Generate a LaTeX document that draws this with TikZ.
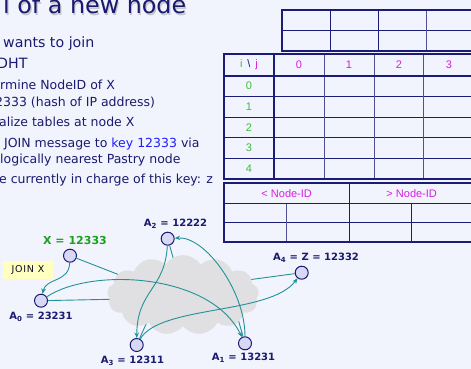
\documentclass[tikz,border=0pt]{standalone}
\usepackage{fontspec}
\setmainfont{DejaVu Sans}
\newfontfamily\tabfont{Liberation Sans}
\usetikzlibrary{shapes.symbols,arrows.meta}
\definecolor{bgc}{RGB}{242,244,253}
\definecolor{navy}{RGB}{26,26,112}
\definecolor{gridnavy}{RGB}{28,28,120}
\definecolor{gridsoft}{RGB}{80,80,150}
\definecolor{keyblue}{RGB}{30,30,255}
\definecolor{magen}{RGB}{215,30,225}
\definecolor{rowgreen}{RGB}{60,190,60}
\definecolor{xgreen}{RGB}{30,160,30}
\definecolor{linkteal}{RGB}{34,145,152}
\definecolor{nodefill}{RGB}{216,216,244}
\definecolor{cloudgray}{RGB}{224,224,226}
\definecolor{joinyellow}{RGB}{255,255,192}
\tikzset{
  bullet/.style={anchor=base west,inner sep=0,text=navy,font=\fontsize{12.5}{15}\selectfont},
  bulletbig/.style={anchor=base west,inner sep=0,text=navy,font=\fontsize{14.2}{17}\selectfont},
  tthick/.style={draw=gridnavy,line width=1.8pt},
  tthin/.style={draw=gridnavy,line width=1pt},
  tsoft/.style={draw=gridsoft,line width=1pt},
  hdr/.style={inner sep=0,text=magen,font=\tabfont\fontsize{11}{13}\selectfont},
  rowlbl/.style={inner sep=0,text=rowgreen,font=\tabfont\fontsize{11}{13}\selectfont},
  peer/.style={circle,minimum size=13pt,inner sep=0,fill=nodefill,draw=navy,line width=1pt},
  peerlbl/.style={inner sep=0,text=navy,font=\bfseries\fontsize{10}{12}\selectfont},
  link/.style={draw=linkteal,line width=0.9pt},
  hop/.style={draw=linkteal,line width=0.9pt,-{Stealth[length=5.5pt,width=4.5pt]}},
}
\begin{document}
\begin{tikzpicture}[x=1pt,y=-1pt]
\fill[bgc] (0,0) rectangle (471,369);
\useasboundingbox (0,0) rectangle (471,369);
\clip (0,0) rectangle (471,369);

% title with its soft shadow
\node[anchor=base west,inner sep=0,text=black!35,opacity=0.6,font=\fontsize{23.8}{28}\selectfont] (titleshadow) at (4.2,15.2) {l of a new node};
\node[anchor=base west,inner sep=0,text=navy,font=\fontsize{23.8}{28}\selectfont] (title) at (3,14) {l of a new node};

% bullet text
\node[bulletbig] (b1) at (3,48) {wants to join};
\node[bulletbig] (b2) at (-3,68) {DHT};
\node[bullet] (b3) at (0,89) {rmine NodeID of X};
\node[bullet] (b4) at (-5,106) {2333 (hash of IP address)};
\node[bullet] (b5) at (-1,126) {alize tables at node X};
\node[bullet] (b6) at (4,147) {JOIN message to \textcolor{keyblue}{key 12333} via};
\node[bullet] (b7) at (0,163) {logically nearest Pastry node};
\node[bullet] (b8) at (-1,183) {e currently in charge of this key: z};

% upper table
\draw[tthin] (282,30.3) -- (480,30.3);
\draw[tthin] (330.3,10) -- (330.3,51) (378.3,10) -- (378.3,51);
\draw[tsoft] (426,10) -- (426,51);
\draw[tthick] (282,10) rectangle (480,51);

% routing table
\draw[tthin] (224,96.3) -- (480,96.3) (224,117) -- (480,117)
             (224,137.7) -- (480,137.7) (224,158.3) -- (480,158.3);
\draw[tsoft] (324.3,54.3) -- (324.3,179) (374,54.3) -- (374,179) (423.7,54.3) -- (423.7,179);
\draw[tthick] (224,75.7) -- (480,75.7) (274,54.3) -- (274,179);
\draw[tthick] (224,54.3) rectangle (480,179);
\node[inner sep=0,font=\tabfont\fontsize{11}{13}\selectfont] (ij) at (249,65)
  {\textcolor{rowgreen}{i}\, \textcolor{navy}{\textbackslash}\, \textcolor{magen}{j}};
\node[hdr] (c0) at (299,65) {0};
\node[hdr] (c1) at (349,65) {1};
\node[hdr] (c2) at (399,65) {2};
\node[hdr] (c3) at (449,65) {3};
\node[rowlbl] (r0) at (249,86) {0};
\node[rowlbl] (r1) at (249,106.6) {1};
\node[rowlbl] (r2) at (249,127.3) {2};
\node[rowlbl] (r3) at (249,148) {3};
\node[rowlbl] (r4) at (249,168.6) {4};

% leaf set
\draw[tthin] (224,203.7) -- (480,203.7) (224,222.7) -- (480,222.7);
\draw[tthin] (349.3,183.3) -- (349.3,241.7) (411.7,203.7) -- (411.7,241.7);
\draw[tsoft] (286.7,203.7) -- (286.7,241.7);
\draw[tthick] (224,183.3) rectangle (480,241.7);
\node[hdr] (lsl) at (286.7,193.5) {< Node-ID};
\node[hdr] (lsg) at (411.7,193.5) {> Node-ID};

% peers
\node[peer] (X)  at (70,255.7) {};
\node[peer] (A0) at (41,300.7) {};
\node[peer] (A2) at (167.7,238.7) {};
\node[peer] (A3) at (136.7,345) {};
\node[peer] (A4) at (301.7,272.7) {};
\node[peer] (A1) at (245,343.3) {};

% links into the overlay network
\coordinate (nX) at (135,281);
\coordinate (nA0) at (125,299);
\coordinate (nA2) at (176,268);
\coordinate (nA4) at (240,281);
\coordinate (nA1) at (236,312);
\coordinate (nA3) at (147,322);
\draw[link] (X) -- (nX);
\draw[link] (A0) -- (nA0);
\draw[link] (A2) -- (nA2);
\draw[link] (A4) -- (nA4);
\draw[link] (A1) -- (nA1);
\draw[link] (A3) -- (nA3);

% overlay network
\node[cloud,cloud puffs=13,cloud puff arc=115,aspect=1.9,minimum width=152pt,minimum height=80pt,
      inner sep=0,fill=cloudgray] (net) at (183,295) {};

% route of the JOIN message
\draw[hop] (X) .. controls +(-1,27) and +(5,-23) .. (A0);
\draw[hop] (A0) .. controls +(49,-33) and +(-35,-71) .. (A1);
\draw[hop] (A1) .. controls +(0,-53) and +(37,-2.7) .. (A2);
\draw[hop] (A2) .. controls +(-2.7,51) and +(0.3,-55) .. (A3);
\draw[hop] (A3) .. controls +(23.3,-40) and +(-31.7,42.3) .. (A4);

% peer labels
\node[inner sep=0,text=xgreen,font=\bfseries\fontsize{11}{13}\selectfont] (lX) at (75,240) {X = 12333};
\node[peerlbl] (lA2) at (175.5,224) {A\textsubscript{2} = 12222};
\node[peerlbl] (lA0) at (41,317) {A\textsubscript{0} = 23231};
\node[peerlbl] (lA3) at (132.5,361) {A\textsubscript{3} = 12311};
\node[peerlbl] (lA4) at (316,258) {A\textsubscript{4} = Z = 12332};
\node[peerlbl] (lA1) at (243.5,357.5) {A\textsubscript{1} = 13231};

% message tag
\node[fill=joinyellow,minimum width=50pt,minimum height=18pt,inner sep=0,text=black!70!navy,
      font=\fontsize{9.5}{11}\selectfont\addfontfeatures{LetterSpace=8}] (join) at (28,270) {JOIN X};
\end{tikzpicture}
\end{document}
